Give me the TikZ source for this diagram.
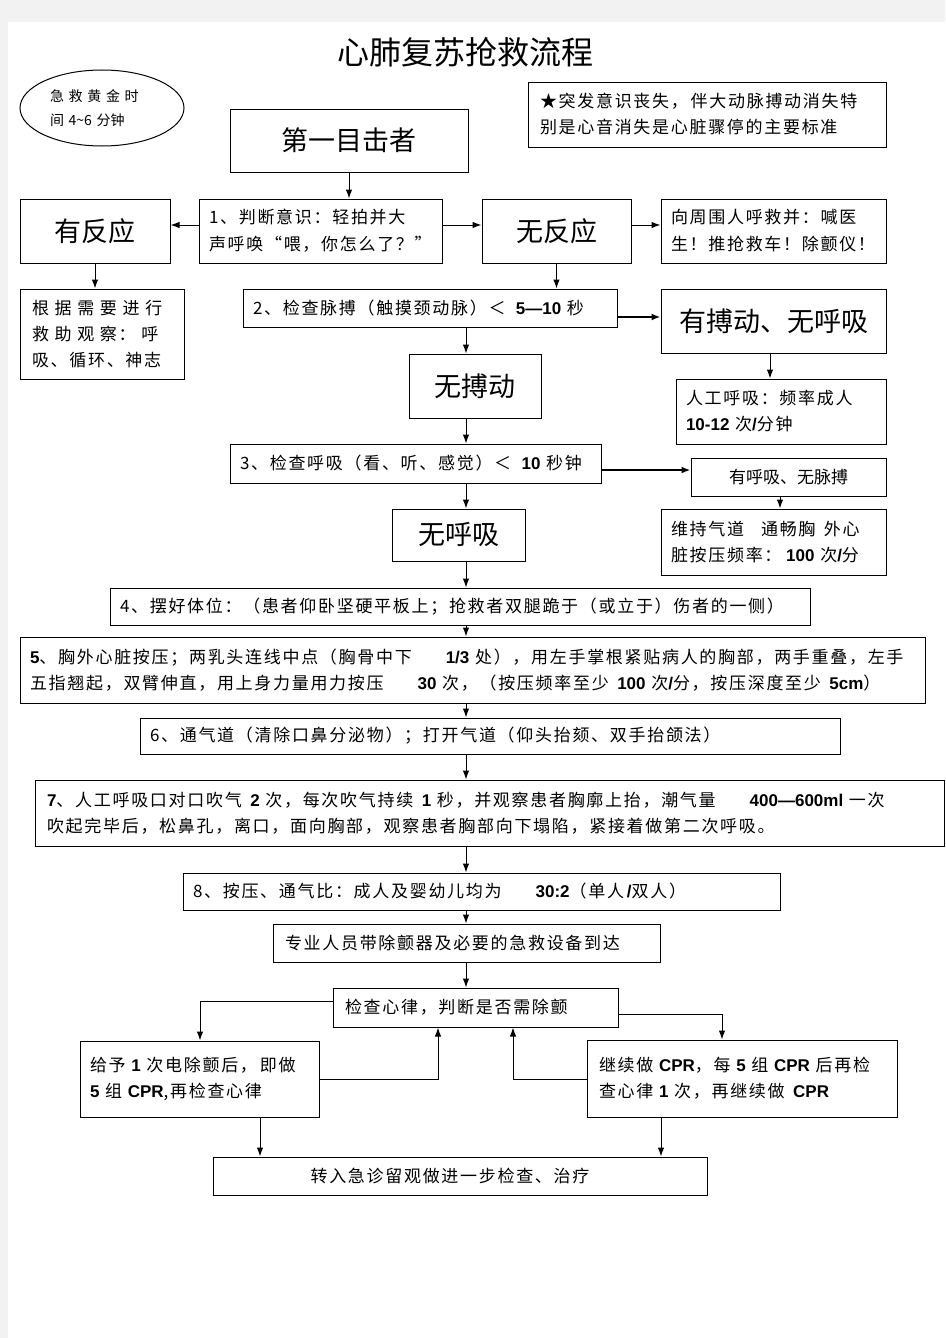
\documentclass[tikz,border=0pt]{standalone}
\usepackage{fontspec}
\setmainfont{Noto Sans CJK SC}
\newfontfamily\sm{Noto Sans CJK SC}[LetterSpace=10]
\newfontfamily\lat{Liberation Sans}
\usetikzlibrary{arrows.meta,shapes.geometric}
\newcommand{\B}[1]{{\lat\bfseries #1}}
\begin{document}
\begin{tikzpicture}[x=1pt,y=-1pt,
  box/.style={draw, line width=1pt, inner ysep=0pt, align=left, font=\sm\fontsize{17}{26}\selectfont},
  bigbox/.style={draw, line width=1pt, inner sep=0pt, align=center, font=\fontsize{27}{32}\selectfont},
  arr/.style={-{Latex[length=9pt,width=6.5pt]}, line width=1pt},
  tarr/.style={-{Latex[length=9pt,width=7pt]}, line width=2pt}]
\useasboundingbox (0,0) rectangle (945,1338);
\fill[white] (0,0) rectangle (945,1338);
\fill[black!5] (0,0) rectangle (945,22);
\fill[black!5] (0,0) rectangle (8,1338);

\node[font=\fontsize{32}{36}\selectfont] (title) at (465,52) {心肺复苏抢救流程};

\node[draw, ellipse, line width=1pt, minimum width=164pt, minimum height=76pt, inner sep=0pt,
      align=left, text width=104pt, font=\fontsize{14}{24}\selectfont] (gold) at (102,108)
      {急\,\,救\,\,黄\,\,金\,\,时\\间 4\textasciitilde6 分钟};

\node[box, text width=334pt, inner xsep=12pt, minimum height=65pt] (star) at (707,114.5)
  {★突发意识丧失，\,伴大动脉搏动消失特\\别是心音消失是心脏骤停的主要标准};

\node[bigbox, minimum width=238pt, minimum height=63pt] (fw) at (349,140.5) {第一目击者};

\node[box, text width=223pt, inner xsep=10pt, minimum height=64pt, font=\sm\fontsize{17}{27}\selectfont] (b1) at (320.5,231)
  {1、判断意识：轻拍并大\\声呼唤“喂，你怎么了？”};
\node[bigbox, minimum width=150pt, minimum height=64pt] (yfy) at (95,231) {有反应};
\node[bigbox, minimum width=149pt, minimum height=64pt] (wfy) at (556.5,231) {无反应};
\node[box, text width=205pt, inner xsep=10pt, minimum height=64pt, font=\sm\fontsize{17}{27}\selectfont] (call) at (773.5,231)
  {向周围人呼救并：喊医\\生！推抢救车！除颤仪！};

\node[box, text width=140pt, inner xsep=12pt, minimum height=90pt] (obs) at (102,334)
  {\makebox[\linewidth][s]{根 据 需 要 进 行}\\\makebox[\linewidth][s]{救 助 观 察： 呼}\\吸、循环、神志};

\node[box, text width=354pt, inner xsep=10pt, minimum height=38pt] (b2) at (430,308)
  {2、检查脉搏（触摸颈动脉）＜\; \B{5—10} 秒};
\node[bigbox, minimum width=225pt, minimum height=64pt] (ybd) at (773.5,321) {有搏动、无呼吸};
\node[box, text width=190pt, inner xsep=10pt, minimum height=65pt] (rg) at (781,411.5)
  {人工呼吸：频率成人\\\B{10-12} 次\B{/}分钟};
\node[bigbox, minimum width=132pt, minimum height=64pt] (wbd) at (475,386) {无搏动};

\node[box, text width=351pt, inner xsep=10pt, minimum height=39pt] (b3) at (415.5,463.5)
  {3、检查呼吸（看、听、感觉）＜\; \B{10} 秒钟};
\node[draw, line width=1pt, inner sep=0pt, minimum width=195pt, minimum height=38pt, font=\fontsize{17}{26}\selectfont] (yhx) at (788.5,477) {有呼吸、无脉搏};
\node[box, text width=205pt, inner xsep=10pt, minimum height=66pt] (wc) at (773.5,542)
  {维持气道\quad 通畅胸\enspace 外心\\脏按压频率：\;\B{100} 次\B{/}分};
\node[bigbox, minimum width=133pt, minimum height=52pt] (whx) at (458.5,535) {无呼吸};

\node[box, text width=680pt, inner xsep=10pt, minimum height=37pt] (b4) at (460,606.5)
  {4、摆好体位：（患者仰卧坚硬平板上；抢救者双腿跪于（或立于）伤者的一侧）};
\node[box, text width=885pt, inner xsep=10pt, minimum height=66pt] (b5) at (472.5,670)
  {\B{5}、胸外心脏按压；两乳头连线中点（胸骨中下\qquad\B{1/3} 处），用左手掌根紧贴病人的胸部，两手重叠，左手\\五指翘起，双臂伸直，用上身力量用力按压\qquad\B{30} 次，（按压频率至少\enspace\B{100} 次\B{/}分，按压深度至少\enspace\B{5cm}）};
\node[box, text width=680pt, inner xsep=10pt, minimum height=36pt] (b6) at (490,736)
  {6、通气道（清除口鼻分泌物）；打开气道（仰头抬颏、双手抬颌法）};
\node[box, text width=885pt, inner xsep=12pt, minimum height=66pt] (b7) at (489.5,813)
  {\B{7}、人工呼吸口对口吹气\enspace\B{2} 次，每次吹气持续\enspace\B{1} 秒，并观察患者胸廓上抬，潮气量\qquad\B{400—600ml} 一次\\吹起完毕后，松鼻孔，离口，面向胸部，观察患者胸部向下塌陷，紧接着做第二次呼吸。};
\node[box, text width=577pt, inner xsep=10pt, minimum height=37pt] (b8) at (481.5,891.5)
  {8、按压、通气比：成人及婴幼儿均为\qquad\B{30:2}（单人\,\B{/}双人）};
\node[box, text width=363pt, inner xsep=12pt, minimum height=38pt] (pro) at (466.5,943)
  {专业人员带除颤器及必要的急救设备到达};
\node[box, text width=261pt, inner xsep=12pt, minimum height=39pt] (chk) at (475.5,1007.5)
  {检查心律，判断是否需除颤};
\node[box, text width=219pt, inner xsep=10pt, minimum height=76pt] (gy) at (199.5,1079)
  {给予 \B{1} 次电除颤后，\,即做\\\B{5} 组 \B{CPR},再检查心律};
\node[box, text width=286pt, inner xsep=12pt, minimum height=77pt] (jx) at (742,1078.5)
  {继续做 \B{CPR}，每 \B{5} 组 \B{CPR} 后再检\\查心律 \B{1} 次，再继续做\enspace\B{CPR}};
\node[draw, line width=1pt, inner sep=0pt, minimum width=494pt, minimum height=38pt, font=\sm\fontsize{17}{26}\selectfont] (zr) at (460,1176)
  {\hspace*{-20pt}转入急诊留观做进一步检查、治疗};

% connectors
\draw[arr] (fw.south) -- (fw.south |- b1.north);
\draw[arr] (b1.west |- 0,225) -- (yfy.east |- 0,225);
\draw[arr] (b1.east |- 0,225) -- (wfy.west |- 0,225);
\draw[arr] (wfy.east |- 0,225) -- (call.west |- 0,225);
\draw[arr] (yfy.south) -- (yfy.south |- obs.north);
\draw[arr] (wfy.south) -- (wfy.south |- b2.north);
\draw[tarr] (b2.east |- 0,317) -- (ybd.west |- 0,317);
\draw[arr] (ybd.south -| 770,0) -- (rg.north -| 770,0);
\draw[arr] (b2.south -| 466,0) -- (wbd.north -| 466,0);
\draw[arr] (wbd.south -| 466,0) -- (b3.north -| 466,0);
\draw[tarr] (b3.east |- 0,470) -- (yhx.west |- 0,470);
\draw[arr] (yhx.south -| 780,0) -- (wc.north -| 780,0);
\draw[arr] (b3.south -| 466,0) -- (whx.north -| 466,0);
\draw[arr] (whx.south -| 466,0) -- (b4.north -| 466,0);
\draw[arr] (b4.south -| 466,0) -- (b5.north -| 466,0);
\draw[arr] (b5.south -| 466,0) -- (b6.north -| 466,0);
\draw[arr] (b6.south -| 466,0) -- (b7.north -| 466,0);
\draw[arr] (b7.south -| 466,0) -- (b8.north -| 466,0);
\draw[arr] (b8.south -| 466,0) -- (pro.north -| 466,0);
\draw[arr] (pro.south -| 466,0) -- (chk.north -| 466,0);
\draw[arr] (chk.west |- 0,1001) -| (gy.north -| 200,0);
\draw[arr] (chk.east |- 0,1014) -| (jx.north -| 722,0);
\draw[arr] (gy.east |- 0,1079) -| (chk.south -| 438,0);
\draw[arr] (jx.west |- 0,1079) -| (chk.south -| 513,0);
\draw[arr] (gy.south -| 260,0) -- (zr.north -| 260,0);
\draw[arr] (jx.south -| 661,0) -- (zr.north -| 661,0);
\end{tikzpicture}
\end{document}
